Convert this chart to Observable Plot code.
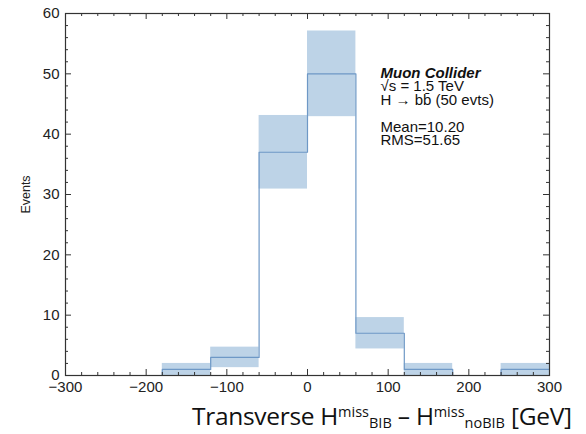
<!DOCTYPE html>
<html>
<head>
<meta charset="utf-8">
<script src="https://cdn.jsdelivr.net/npm/d3@7"></script>
<script src="https://cdn.jsdelivr.net/npm/@observablehq/plot@0.6"></script>
<style>
  html, body { margin: 0; padding: 0; background: #fff; }
  #wrap { position: relative; width: 586px; height: 434px; overflow: hidden; }
  #xtitle {
    position: absolute; left: 192px; top: 404px;
    font-family: "Open Sans", sans-serif; font-size: 24.5px; color: #111;
    white-space: nowrap; line-height: 1; letter-spacing: -0.3px;
  }
  #xtitle sup, #xtitle sub { font-size: 14.5px; line-height: 0; letter-spacing: 0; }
  #xtitle sup { vertical-align: 8px; }
  #xtitle sub { vertical-align: -3px; }
</style>
</head>
<body>
<div id="wrap">
  <div id="chart"></div>
  <div id="xtitle">Transverse H<sup>miss</sup><sub>BIB</sub> – H<sup>miss</sup><sub>noBIB</sub> [GeV]</div>
</div>
<script>
// Bin edges (GeV)
const binLow  = [-300, -240, -180, -120, -60, 0, 60, 120, 180, 240];
const binHigh = [-240, -180, -120, -60, 0, 60, 120, 180, 240, 300];
// Event counts per bin
const counts  = [0, 0, 1, 3, 37, 50, 7, 1, 0, 1];
// Uncertainty band per bin (lower / upper)
const bandLow  = [0, 0, 0, 1.3, 30.9, 42.9, 4.4, 0, 0, 0];
const bandHigh = [0, 0, 2, 4.7, 43.1, 57.1, 9.6, 2, 0, 2];
// Axis ticks
const xMajor = [-300, -200, -100, 0, 100, 200, 300];
const xMinor = [-280, -260, -240, -220, -180, -160, -140, -120, -80, -60, -40, -20, 20, 40, 60, 80, 120, 140, 160, 180, 220, 240, 260, 280];
const yMajor = [0, 10, 20, 30, 40, 50, 60];
const yMinor = [2, 4, 6, 8, 12, 14, 16, 18, 22, 24, 26, 28, 32, 34, 36, 38, 42, 44, 46, 48, 52, 54, 56, 58];
// Annotation
const annoTitle = "Muon Collider";
const annoLines = ["√s = 1.5 TeV", "H → bb̄ (50 evts)"];
const annoStats = ["Mean=10.20", "RMS=51.65"];

const bins = binLow.map((lo, i) => ({x1: lo, x2: binHigh[i], n: counts[i], lo: bandLow[i], hi: bandHigh[i]}));
const stepPts = bins.map(b => ({x: b.x1, y: b.n})).concat([{x: binHigh[binHigh.length - 1], y: counts[counts.length - 1]}]);

const W = 586, H = 395, mL = 65, mR = 37, mT = 13, mB = 20;
const fw = W - mL - mR, fh = H - mT - mB;
const axisColor = "#333";
const font = "Liberation Sans, Arial, Helvetica, sans-serif";

function annoText(str, cy, extra = {}) {
  return Plot.text([str], {text: d => d, frameAnchor: "top-left", dx: 315, dy: cy - mT,
    textAnchor: "start", lineAnchor: "middle", fontSize: 15, fill: "#111", ...extra});
}

const chart = Plot.plot({
  width: W, height: H,
  marginLeft: mL, marginRight: mR, marginTop: mT, marginBottom: mB,
  style: {fontFamily: font, background: "#fff", color: "#222"},
  x: {domain: [-300, 300]},
  y: {domain: [0, 60]},
  marks: [
    Plot.rectY(bins.filter(b => b.hi > b.lo), {x1: "x1", x2: "x2", y1: "lo", y2: "hi", fill: "#bdd3e7"}),
    Plot.line(stepPts, {x: "x", y: "y", curve: "step-after", stroke: "#6e98c6", strokeWidth: 1.2}),
    // inward ticks: bottom & top
    Plot.tickX(xMajor, {x: d => d, insetTop: fh - 6, stroke: axisColor}),
    Plot.tickX(xMinor, {x: d => d, insetTop: fh - 3, stroke: axisColor}),
    Plot.tickX(xMajor, {x: d => d, insetBottom: fh - 6, stroke: axisColor}),
    Plot.tickX(xMinor, {x: d => d, insetBottom: fh - 3, stroke: axisColor}),
    // inward ticks: left & right
    Plot.tickY(yMajor, {y: d => d, insetRight: fw - 6, stroke: axisColor}),
    Plot.tickY(yMinor, {y: d => d, insetRight: fw - 3, stroke: axisColor}),
    Plot.tickY(yMajor, {y: d => d, insetLeft: fw - 6, stroke: axisColor}),
    Plot.tickY(yMinor, {y: d => d, insetLeft: fw - 3, stroke: axisColor}),
    Plot.frame({stroke: axisColor, strokeWidth: 1.2}),
    Plot.axisX({ticks: xMajor, tickSize: 0, tickPadding: 6, fontSize: 15, label: null}),
    Plot.axisY({ticks: yMajor, tickSize: 0, tickPadding: 6, fontSize: 15, label: null}),
    Plot.axisY({ticks: [], label: "Events", labelAnchor: "center", labelArrow: "none", labelOffset: 44, fontSize: 12.5}),
    annoText(annoTitle, 72.5, {fontWeight: "bold", fontStyle: "italic"}),
    annoText(annoLines[0], 86),
    annoText(annoLines[1], 100),
    annoText(annoStats[0], 127),
    annoText(annoStats[1], 139.5)
  ]
});
document.getElementById("chart").appendChild(chart);
</script>
</body>
</html>
